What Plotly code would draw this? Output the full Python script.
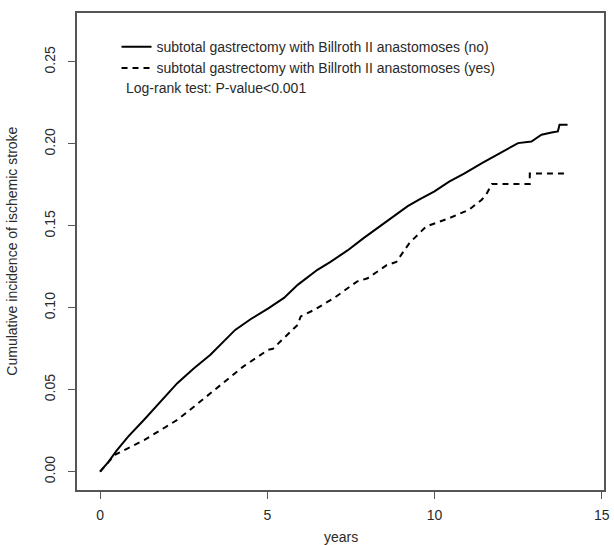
import plotly.graph_objects as go

# Cumulative incidence, subtotal gastrectomy with Billroth II anastomoses (no)
years_no = [0, 0.25, 0.5, 0.84, 1.33, 1.82, 2.31, 2.8, 3.30, 4.04, 4.5, 5.02, 5.5,
            5.91, 6.50, 6.89, 7.4, 7.88, 8.4, 8.86, 9.2, 9.54, 10.0, 10.44, 10.9,
            11.42, 12.0, 12.5, 12.9, 13.2, 13.5, 13.69, 13.74, 13.98]
inc_no = [0.0, 0.006, 0.013, 0.0214, 0.032, 0.0428, 0.054, 0.063, 0.0713, 0.0865,
          0.093, 0.0995, 0.106, 0.114, 0.1232, 0.128, 0.135, 0.1425, 0.150, 0.1568,
          0.162, 0.166, 0.171, 0.177, 0.182, 0.1883, 0.195, 0.2005, 0.2015, 0.2056,
          0.207, 0.2076, 0.2117, 0.2117]

# Cumulative incidence, subtotal gastrectomy with Billroth II anastomoses (yes)
years_yes = [0, 0.44, 1.33, 2.31, 2.95, 3.30, 4.04, 4.28, 5.02, 5.17, 5.42, 5.66,
             5.91, 6.0, 6.40, 7.0, 7.68, 8.0, 8.57, 8.86, 9.25, 9.75, 10.44, 11.03,
             11.42, 11.57, 11.72, 12.85, 12.85, 13.98]
inc_yes = [0.0, 0.0102, 0.0194, 0.0316, 0.042, 0.0479, 0.060, 0.0641, 0.0743, 0.075,
           0.080, 0.0845, 0.0896, 0.0947, 0.0987, 0.106, 0.116, 0.118, 0.126, 0.128,
           0.1395, 0.1496, 0.1547, 0.1598, 0.166, 0.170, 0.1756, 0.1756, 0.182, 0.182]

series_names = ["subtotal gastrectomy with Billroth II anastomoses (no)",
                "subtotal gastrectomy with Billroth II anastomoses (yes)"]
x_ticks = [0, 5, 10, 15]
y_ticks = [0.00, 0.05, 0.10, 0.15, 0.20, 0.25]
y_tick_labels = ["0.00", "0.05", "0.10", "0.15", "0.20", "0.25"]
x_title = "years"
y_title = "Cumulative incidence of ischemic stroke"
note = "Log-rank test: P-value<0.001"

FONT = "Liberation Sans, Arial, sans-serif"
TXT = "#2a2a2a"
FRAME = "#555555"
FS = 14

fig = go.Figure()
fig.add_trace(go.Scatter(x=years_no, y=inc_no, mode="lines", name=series_names[0],
                         line=dict(color="black", width=2)))
fig.add_trace(go.Scatter(x=years_yes, y=inc_yes, mode="lines", name=series_names[1],
                         line=dict(color="black", width=2, dash="6px,5px")))

fig.update_layout(
    width=614, height=545,
    margin=dict(l=77, r=4, t=13, b=55),
    paper_bgcolor="white", plot_bgcolor="white",
    font=dict(family=FONT, size=FS, color=TXT),
    showlegend=True,
    legend=dict(x=0.075, y=0.962, xanchor="left", yanchor="top",
                bgcolor="rgba(0,0,0,0)", borderwidth=0,
                font=dict(family=FONT, size=FS, color=TXT),
                tracegroupgap=0, itemwidth=30),
    annotations=[
        dict(text=note, x=0.09, y=0.843, xref="paper", yref="paper",
             xanchor="left", yanchor="middle", showarrow=False,
             font=dict(family=FONT, size=FS, color=TXT)),
        dict(text=x_title, x=0.5, y=-0.0985, xref="paper", yref="paper",
             xanchor="center", yanchor="middle", showarrow=False,
             font=dict(family=FONT, size=FS, color=TXT)),
        dict(text=y_title, x=-0.125, y=0.5, xref="paper", yref="paper",
             xanchor="center", yanchor="middle", showarrow=False, textangle=-90,
             font=dict(family=FONT, size=FS, color=TXT)),
    ],
)
fig.update_xaxes(range=[-0.69, 15.07], tickvals=x_ticks, ticks="outside", ticklen=7,
                 tickcolor=FRAME, showline=True, linecolor=FRAME, linewidth=1.5,
                 mirror=True, showgrid=False, zeroline=False, ticklabelstandoff=4,
                 tickfont=dict(family=FONT, size=FS, color=TXT))
fig.update_yaxes(range=[-0.0112, 0.2799], tickvals=y_ticks, ticktext=y_tick_labels,
                 ticks="outside", ticklen=7, tickangle=-90, ticklabelstandoff=8,
                 tickcolor=FRAME, showline=True, linecolor=FRAME, linewidth=1.5,
                 mirror=True, showgrid=False, zeroline=False,
                 tickfont=dict(family=FONT, size=FS, color=TXT))

fig.write_html("out.html",
               config={"displayModeBar": False},
               post_script="document.body.style.margin='0';"
                           "document.body.style.overflow='hidden';")
